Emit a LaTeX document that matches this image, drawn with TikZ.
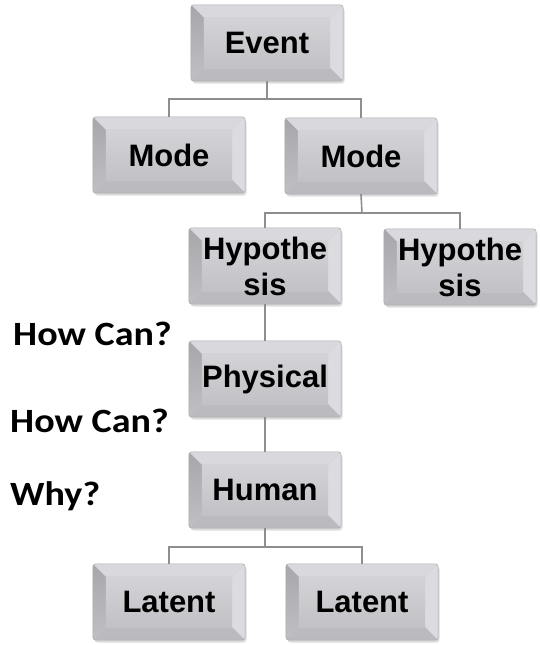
\documentclass[tikz,border=0pt]{standalone}
\usepackage{fontspec}
\setmainfont{Liberation Sans}
\newfontfamily\labelfont{Carlito}
\usetikzlibrary{shadows}

\definecolor{facetop}{HTML}{D3D3D7}
\definecolor{facebot}{HTML}{C2C2C6}
\definecolor{bevtop}{HTML}{D9D9DD}
\definecolor{bevleft}{HTML}{A6A6AB}
\definecolor{bevlefttwo}{HTML}{C0C0C4}
\definecolor{bevright}{HTML}{DCDCE0}
\definecolor{bevbot}{HTML}{BBBBBF}
\definecolor{edgecol}{HTML}{ABABAF}
\definecolor{linkcol}{HTML}{8E8E8E}

\tikzset{
  x=1pt, y=-1pt,
  boxnode/.style={minimum width=152pt, minimum height=76pt, inner sep=0pt,
    fill=facebot, rounded corners=3pt,
    drop shadow={shadow xshift=1.5pt, shadow yshift=-2.5pt, opacity=0.22, fill=black!60}},
  boxtext/.style={font=\fontsize{31}{36}\selectfont\bfseries, align=center, inner sep=0pt},
  link/.style={draw=linkcol, line width=1.6pt},
  sidelabel/.style={inner sep=0pt, anchor=base west, xscale=1.12,
    font=\labelfont\fontsize{34}{40}\selectfont\bfseries}
}

% bevelled box: name, centre, text
\newcommand\bevelbox[3]{%
  \node[boxnode] (#1) at (#2) {};
  \begin{scope}
  \clip[rounded corners=3pt] (#1.north west) rectangle (#1.south east);
  \fill[bevtop] (#1.north west) -- (#1.north east)
     -- ([shift={(-13,13)}]#1.north east) -- ([shift={(13,13)}]#1.north west) -- cycle;
  \shade[top color=bevleft, bottom color=bevlefttwo]
     (#1.north west) -- ([shift={(13,13)}]#1.north west)
     -- ([shift={(13,-13)}]#1.south west) -- (#1.south west) -- cycle;
  \fill[bevright] (#1.north east) -- (#1.south east)
     -- ([shift={(-13,-13)}]#1.south east) -- ([shift={(-13,13)}]#1.north east) -- cycle;
  \fill[bevbot] (#1.south west) -- (#1.south east)
     -- ([shift={(-13,-13)}]#1.south east) -- ([shift={(13,-13)}]#1.south west) -- cycle;
  \shade[top color=facetop, bottom color=facebot]
     ([shift={(13,13)}]#1.north west) rectangle ([shift={(-13,-13)}]#1.south east);
  \end{scope}
  \draw[edgecol, line width=0.5pt, rounded corners=3pt]
     (#1.north west) rectangle (#1.south east);
  \node[boxtext] (#1-text) at (#1.center) {#3};
}

\begin{document}
\begin{tikzpicture}
\useasboundingbox[fill=white] (0,0) rectangle (540,645);

% junction points of the tree
\coordinate (j1) at (267,99);
\coordinate (j2) at (362,213);
\coordinate (j3) at (265,547);

\bevelbox{event}{267,43}{Event}
\bevelbox{modeL}{169,155}{Mode}
\bevelbox{modeR}{361,156}{Mode}
\bevelbox{hypL}{265,266}{Hypothe\\sis}
\bevelbox{hypR}{460,267}{Hypothe\\sis}
\bevelbox{phys}{265,379}{Physical}
\bevelbox{human}{265,490}{Human}
\bevelbox{latL}{169,602}{Latent}
\bevelbox{latR}{362,602}{Latent}

% connectors
\draw[link] (event.south) -- (j1);
\draw[link] (modeL.north) |- (j1) -| (modeR.north);
\draw[link] (modeR.south) -- (j2);
\draw[link] (hypL.north) |- (j2) -| (hypR.north);
\draw[link] (hypL.south) -- (phys.north);
\draw[link] (phys.south) -- (human.north);
\draw[link] (human.south) -- (j3);
\draw[link] (latL.north) |- (j3) -| (latR.north);

% side questions
\node[sidelabel] (q1) at (13,345) {How Can?};
\node[sidelabel] (q2) at (10,432) {How Can?};
\node[sidelabel] (q3) at (10,505) {Why?};
\end{tikzpicture}
\end{document}
